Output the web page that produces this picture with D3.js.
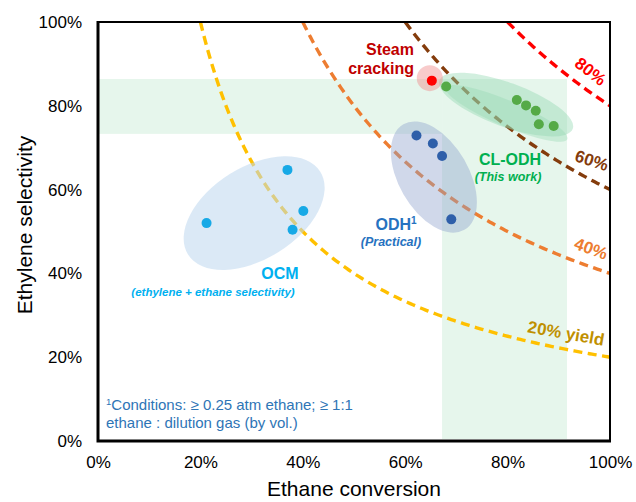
<!DOCTYPE html>
<html><head><meta charset="utf-8">
<script src="https://cdn.jsdelivr.net/npm/d3@7/dist/d3.min.js"></script>
<style>
body{margin:0;background:#fff;}
svg{display:block;font-family:Arial,"Liberation Sans",sans-serif;}
</style></head>
<body>
<svg id="c" width="636" height="502"></svg>
<script>
// ---------- data ----------
const xTicks = [0, 0.2, 0.4, 0.6, 0.8, 1.0];
const yTicks = [0, 0.2, 0.4, 0.6, 0.8, 1.0];
const yieldLevels = [0.2, 0.4, 0.6, 0.8];
const yieldLabels = ["20% yield", "40%", "60%", "80%"];
// OCM points [conversion, selectivity]
const ocmConv = [0.212, 0.370, 0.401, 0.380];
const ocmSel  = [0.520, 0.647, 0.549, 0.504];
// ODH points
const odhConv = [0.622, 0.654, 0.672, 0.690];
const odhSel  = [0.729, 0.710, 0.680, 0.529];
// CL-ODH points
const clConv = [0.680, 0.818, 0.836, 0.855, 0.861, 0.890];
const clSel  = [0.846, 0.814, 0.801, 0.788, 0.756, 0.752];
// Steam cracking
const scConv = [0.652];
const scSel  = [0.860];
// Shaded target bands
const bandSelRange = [0.733, 0.864];
const bandConvRange = [0.672, 0.916];

// ---------- setup ----------
const svg = d3.select("#c");
const L = 98, R = 610, T = 22, B = 441;
const x = d3.scaleLinear().domain([0, 1]).range([L, R]);
const y = d3.scaleLinear().domain([0, 1]).range([B, T]);

svg.append("defs").append("clipPath").attr("id", "clip")
  .append("rect").attr("x", L).attr("y", T).attr("width", R - L).attr("height", B - T);
const g = svg.append("g").attr("clip-path", "url(#clip)");

// bands
const bandColor = "#E6F6EC";
g.append("rect")
  .attr("x", x(0)).attr("y", y(bandSelRange[1]))
  .attr("width", x(bandConvRange[0]) - x(0))
  .attr("height", y(bandSelRange[0]) - y(bandSelRange[1]))
  .attr("fill", bandColor);
g.append("rect")
  .attr("x", x(bandConvRange[0])).attr("y", y(bandSelRange[1]))
  .attr("width", x(bandConvRange[1]) - x(bandConvRange[0]))
  .attr("height", y(0) - y(bandSelRange[1]) - 2)
  .attr("fill", bandColor);

// iso-yield curves: selectivity = yield / conversion
const curveColors = ["#FFC000", "#ED7D31", "#843C0C", "#FF0000"];
const line = d3.line().x(d => x(d[0])).y(d => y(d[1]));
yieldLevels.forEach((Y, i) => {
  const pts = d3.range(Y, 1.0001, 0.005).map(c => [c, Y / c]);
  g.append("path").attr("d", line(pts))
    .attr("fill", "none").attr("stroke", curveColors[i])
    .attr("stroke-width", 3.4).attr("stroke-dasharray", "9,5.5");
});

// ellipses
function ell(cx, cy, rx, ry, rot, fill, op) {
  g.append("ellipse")
    .attr("transform", `translate(${x(cx)},${y(cy)}) rotate(${rot})`)
    .attr("rx", rx).attr("ry", ry)
    .attr("fill", fill).attr("fill-opacity", op);
}
ell(0.305, 0.544, 78, 46, -32, "#BDD7EE", 0.55);
ell(0.656, 0.630, 61, 35, 60, "#8FA3CC", 0.42);
ell(0.797, 0.803, 71, 22, 20, "#8ED8AE", 0.40);
ell(0.798, 0.782, 66, 13, 23, "#8ED8AE", 0.35);
ell(0.648, 0.866, 13, 13, 0, "#F08C8C", 0.45);

// points
function pts(cs, ss, color) {
  g.selectAll(null).data(cs.map((c, i) => [c, ss[i]])).enter().append("circle")
    .attr("cx", d => x(d[0])).attr("cy", d => y(d[1])).attr("r", 5)
    .attr("fill", color);
}
pts(ocmConv, ocmSel, "#17A9E6");
pts(odhConv, odhSel, "#2E5FA9");
pts(clConv, clSel, "#55AA47");
pts(scConv, scSel, "#FF0000");

// frame
svg.append("rect").attr("x", L).attr("y", T).attr("width", R - L).attr("height", B - T)
  .attr("fill", "none").attr("stroke", "#000").attr("stroke-width", 2);
svg.append("path").attr("d", `M${L},${T - 1}V${B}H${R + 1}`)
  .attr("fill", "none").attr("stroke", "#000").attr("stroke-width", 3);

// axes
const fmt = d3.format(".0%");
const xa = svg.append("g").attr("transform", `translate(0,${B})`)
  .call(d3.axisBottom(x).tickValues(xTicks).tickFormat(fmt).tickSize(0).tickPadding(15));
const ya = svg.append("g").attr("transform", `translate(${L},0)`)
  .call(d3.axisLeft(y).tickValues(yTicks).tickFormat(fmt).tickSize(0).tickPadding(16));
[xa, ya].forEach(a => {
  a.select(".domain").remove();
  a.selectAll("text").attr("font-size", 17).attr("fill", "#000")
    .attr("font-family", "Arial, 'Liberation Sans', sans-serif");
});

svg.append("text").attr("x", (L + R) / 2).attr("y", 496).attr("text-anchor", "middle")
  .attr("font-size", 21).text("Ethane conversion");
svg.append("text").attr("transform", "translate(32,225) rotate(-90)")
  .attr("text-anchor", "middle").attr("font-size", 21).text("Ethylene selectivity");

// labels
function lab(px, py, txt, opts) {
  const t = svg.append("text").attr("x", px).attr("y", py).text(txt)
    .attr("font-size", opts.size).attr("fill", opts.color)
    .attr("font-weight", opts.weight || "bold")
    .attr("text-anchor", opts.anchor || "middle");
  if (opts.italic) t.attr("font-style", "italic");
  if (opts.rot) t.attr("transform", `rotate(${opts.rot},${px},${py})`);
  return t;
}
lab(414, 55, "Steam", {size: 16, color: "#C00000", anchor: "end"});
lab(414, 74, "cracking", {size: 16, color: "#C00000", anchor: "end"});
lab(510, 165, "CL-ODH", {size: 16, color: "#00B050"});
lab(508, 181, "(This work)", {size: 12.5, color: "#00B050", italic: true});
const odh = lab(396, 230, "ODH", {size: 16, color: "#2672C0"});
odh.append("tspan").attr("dy", -6).attr("font-size", 10).text("1");
lab(391, 246, "(Practical)", {size: 12.5, color: "#2672C0", italic: true});
lab(280, 279, "OCM", {size: 16, color: "#00B0F0"});
lab(213, 296, "(ethylene + ethane selectivity)", {size: 11.5, color: "#00B0F0", italic: true});

const yl = [
  {x: 565, y: 339, rot: 10, c: "#BF9000"},
  {x: 589, y: 254, rot: 20, c: "#ED7D31"},
  {x: 590, y: 166, rot: 18, c: "#843C0C"},
  {x: 587, y: 76, rot: 38, c: "#FF0000"}
];
yieldLabels.forEach((t, i) => lab(yl[i].x, yl[i].y, t, {size: 17, color: yl[i].c, rot: yl[i].rot}));

// footnote
const fn = svg.append("text").attr("x", 106).attr("y", 410).attr("font-size", 15).attr("fill", "#2E75B6");
fn.append("tspan").attr("font-size", 9.5).attr("dy", -5).text("1");
fn.append("tspan").attr("dy", 5).text("Conditions: ≥ 0.25 atm ethane; ≥ 1:1");
svg.append("text").attr("x", 106).attr("y", 428).attr("font-size", 15).attr("fill", "#2E75B6")
  .text("ethane : dilution gas (by vol.)");
</script>
</body></html>
